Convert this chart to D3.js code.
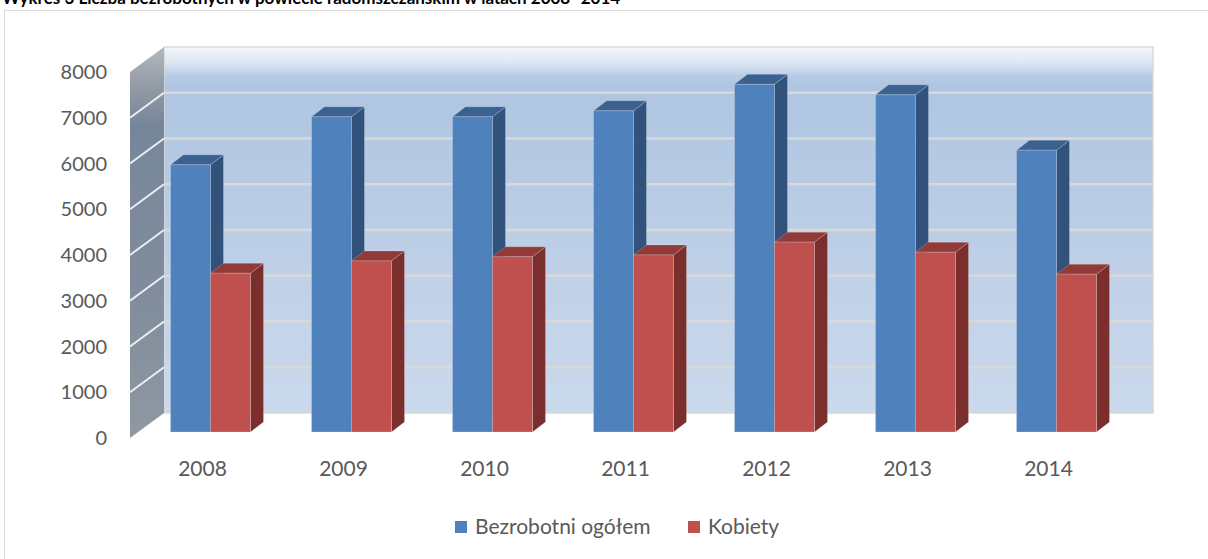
<!DOCTYPE html>
<html>
<head>
<meta charset="utf-8">
<script src="https://cdn.jsdelivr.net/npm/d3@7/dist/d3.min.js"></script>
<style>
  html, body { margin: 0; padding: 0; background: #fff; }
  svg { display: block; font-family: Lato, "Open Sans", sans-serif; }
</style>
</head>
<body>
<div id="chart"></div>
<script>
const years = ["2008", "2009", "2010", "2011", "2012", "2013", "2014"];
const bezrobotni = [5840, 6890, 6890, 7020, 7600, 7370, 6160];
const kobiety = [3470, 3740, 3830, 3870, 4150, 3930, 3450];
const yTicks = [0, 1000, 2000, 3000, 4000, 5000, 6000, 7000, 8000];
const seriesNames = ["Bezrobotni ogółem", "Kobiety"];
const title = "Wykres 3 Liczba bezrobotnych w powiecie radomszczańskim w latach 2008- 2014";

const W = 1208, H = 559;
const depth = { dx: 34, dy: -25 };      // floor depth (front -> back wall)
const barDepth = { dx: 13, dy: -10 };   // bar thickness
const barOffset = { dx: 8, dy: -6 };    // where bars stand on the floor

const svg = d3.select("#chart").append("svg")
    .attr("width", W)
    .attr("height", H);

const defs = svg.append("defs");
const wallGrad = defs.append("linearGradient")
    .attr("id", "wall").attr("x1", 0).attr("y1", 0).attr("x2", 0).attr("y2", 1);
[["0%", "#f3f6fb"], ["4%", "#dfe8f4"], ["8%", "#b8cbe4"], ["11%", "#afc5e1"], ["100%", "#cbd9ec"]]
    .forEach(([o, c]) => wallGrad.append("stop").attr("offset", o).attr("stop-color", c));
const sideGrad = defs.append("linearGradient")
    .attr("id", "side").attr("x1", 0).attr("y1", 0).attr("x2", 0).attr("y2", 1);
[["0%", "#b4b9bf"], ["10%", "#939ba5"], ["20%", "#76869a"], ["60%", "#808c9c"], ["100%", "#8f98a2"]]
    .forEach(([o, c]) => sideGrad.append("stop").attr("offset", o).attr("stop-color", c));

// title (clipped at the top of the page, as in the source) and frame
svg.append("text")
    .attr("x", 2).attr("y", 4)
    .attr("font-weight", "bold")
    .attr("font-size", 17)
    .attr("fill", "#000")
    .text(title);

svg.append("rect")
    .attr("x", 4.5).attr("y", 10.5)
    .attr("width", 1400).attr("height", 700)
    .attr("fill", "none")
    .attr("stroke", "#d9d9d9");

// scales
const y = d3.scaleLinear().domain([0, 8000]).range([438, 72]);
const x = d3.scaleBand().domain(years).range([132, 1119]);
const xSub = d3.scaleBand().domain(seriesNames).range([0, 80]);

const x0 = 130, x1 = 1119;
const yb = v => y(v) + depth.dy;

// back wall
svg.append("rect")
    .attr("x", x0 + depth.dx).attr("y", yb(8000))
    .attr("width", x1 - x0).attr("height", yb(0) - yb(8000))
    .attr("fill", "url(#wall)")
    .attr("stroke", "#d9d9d9").attr("stroke-width", 1.5);

// side wall
svg.append("polygon")
    .attr("points", [[x0, y(0)], [x0, y(8000)], [x0 + depth.dx, yb(8000)], [x0 + depth.dx, yb(0)]].join(" "))
    .attr("fill", "url(#side)");

// gridlines
const grid = yTicks.filter(v => v > 0 && v < 8000);
svg.append("g").selectAll("line.back").data(grid).join("line")
    .attr("x1", x0 + depth.dx).attr("x2", x1 + depth.dx)
    .attr("y1", d => yb(d)).attr("y2", d => yb(d))
    .attr("stroke", "#d9d9d9").attr("stroke-width", 2.5);
svg.append("g").selectAll("line.side").data(grid).join("line")
    .attr("x1", x0).attr("x2", x0 + depth.dx)
    .attr("y1", d => y(d)).attr("y2", d => yb(d))
    .attr("stroke", "#eceff3").attr("stroke-width", 2);

// y tick labels
svg.append("g").selectAll("text").data(yTicks).join("text")
    .attr("x", 107).attr("y", d => y(d))
    .attr("dy", "0.35em")
    .attr("text-anchor", "end")
    .attr("font-size", 20)
    .attr("fill", "#595959")
    .text(d => d);

// bars
const colors = {
    "Bezrobotni ogółem": { front: "#4f81bd", top: "#3b6190", side: "#31527b" },
    "Kobiety": { front: "#c0504d", top: "#923a37", side: "#7b2f2d" }
};
const barData = [];
years.forEach((yr, i) => {
    barData.push({ year: yr, s: seriesNames[0], v: bezrobotni[i] });
    barData.push({ year: yr, s: seriesNames[1], v: kobiety[i] });
});
const bw = xSub.bandwidth();
const bars = svg.append("g").selectAll("g").data(barData).join("g");
bars.each(function (d) {
    const g = d3.select(this);
    const c = colors[d.s];
    const bx = x(d.year) + (x.bandwidth() - 80) / 2 + xSub(d.s) + barOffset.dx;
    const yt = y(d.v) + barOffset.dy;
    const ybot = y(0) + barOffset.dy;
    g.append("polygon")
        .attr("points", [[bx + bw, yt], [bx + bw + barDepth.dx, yt + barDepth.dy],
            [bx + bw + barDepth.dx, ybot + barDepth.dy], [bx + bw, ybot]].join(" "))
        .attr("fill", c.side)
        .attr("stroke", "rgba(255,255,255,0.25)").attr("stroke-width", 0.8);
    g.append("polygon")
        .attr("points", [[bx, yt], [bx + barDepth.dx, yt + barDepth.dy],
            [bx + bw + barDepth.dx, yt + barDepth.dy], [bx + bw, yt]].join(" "))
        .attr("fill", c.top)
        .attr("stroke", "rgba(255,255,255,0.25)").attr("stroke-width", 0.8);
    g.append("rect")
        .attr("x", bx).attr("y", yt)
        .attr("width", bw).attr("height", ybot - yt)
        .attr("fill", c.front)
        .attr("stroke", "rgba(255,255,255,0.25)").attr("stroke-width", 0.8);
});

// category labels
svg.append("g").selectAll("text").data(years).join("text")
    .attr("x", d => x(d) + x.bandwidth() / 2)
    .attr("y", 469)
    .attr("dy", "0.35em")
    .attr("text-anchor", "middle")
    .attr("font-size", 21)
    .attr("fill", "#595959")
    .text(d => d);

// legend
const legendX = [455, 688];
const legend = svg.append("g").selectAll("g").data(seriesNames).join("g")
    .attr("transform", (d, i) => `translate(${legendX[i]},527)`);
legend.append("rect")
    .attr("x", 0).attr("y", -6).attr("width", 12).attr("height", 12)
    .attr("fill", d => colors[d].front);
legend.append("text")
    .attr("x", 20).attr("dy", "0.35em")
    .attr("font-size", 21)
    .attr("fill", "#595959")
    .text(d => d);
</script>
</body>
</html>
